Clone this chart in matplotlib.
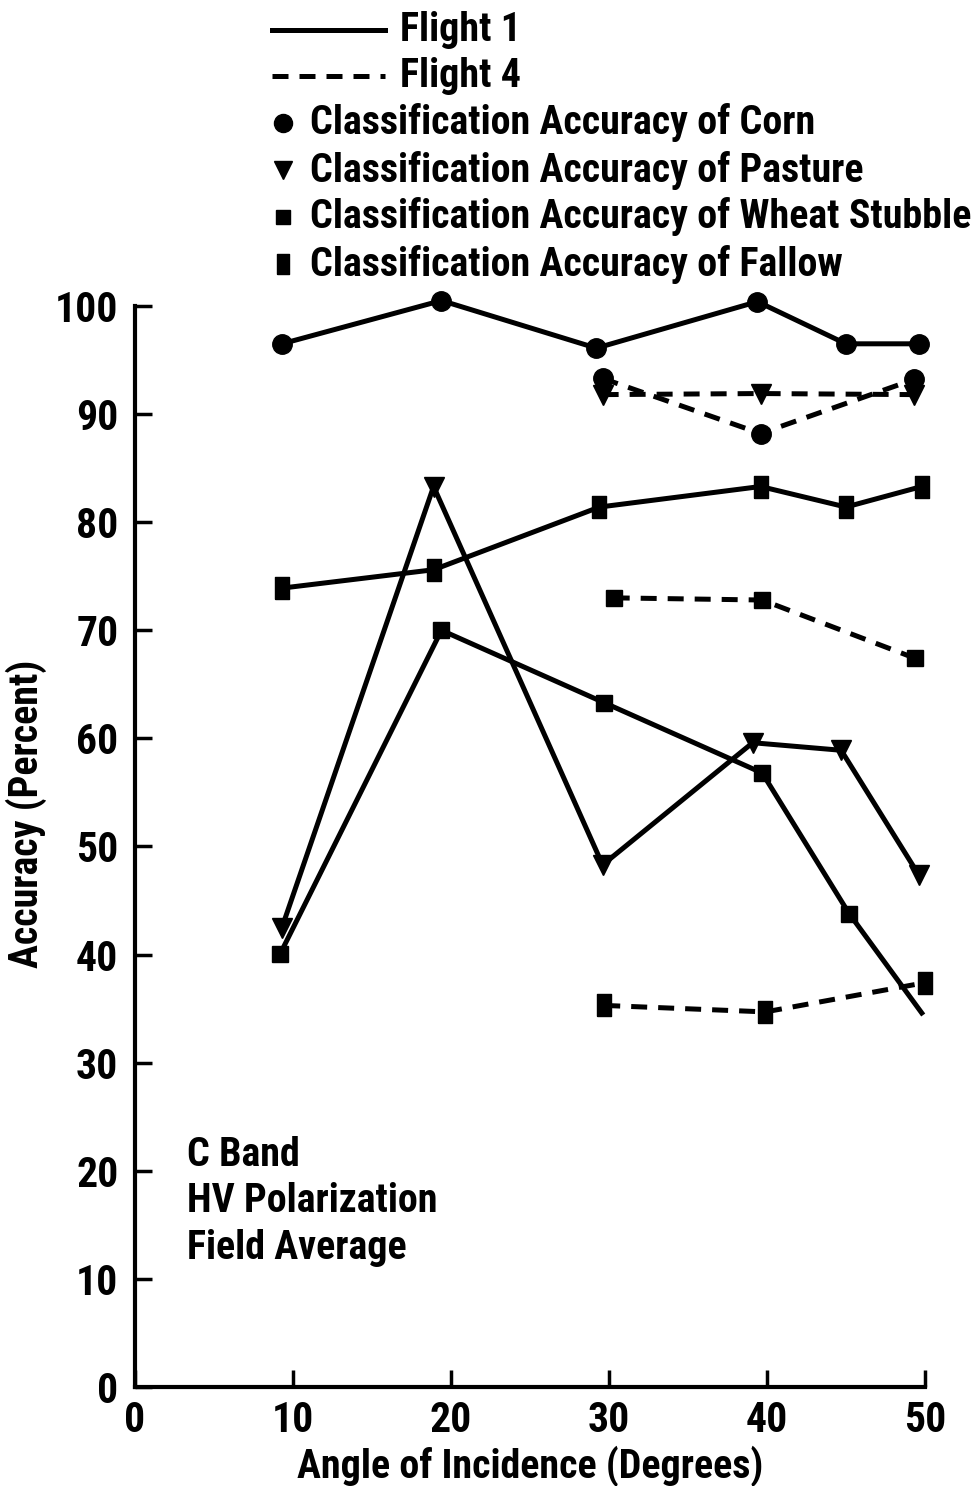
import matplotlib
matplotlib.use("Agg")
import matplotlib.pyplot as plt
from matplotlib.lines import Line2D
from matplotlib import font_manager

# pick a condensed face if one is installed
def pick_font():
    fl = font_manager.fontManager.ttflist
    order = ["robotocondensed", "notosans-extracondensed", "notosans-condensed",
             "narrow", "dejavusanscondensed"]
    for key in order:
        c = [f for f in fl if key in f.fname.lower().replace(" ", "")
             and f.style == "normal" and "mono" not in f.fname.lower()]
        if c:
            def w(f):
                wt = f.weight if isinstance(f.weight, int) else 400
                return abs(wt - 600)
            return sorted(c, key=w)[0]
    return None

pf = pick_font()
WEIGHT = "bold"
if pf is not None:
    plt.rcParams["font.family"] = [pf.name, "DejaVu Sans"]
    plt.rcParams["font.stretch"] = pf.stretch
    WEIGHT = pf.weight
else:
    plt.rcParams["font.family"] = ["DejaVu Sans"]
plt.rcParams["font.weight"] = WEIGHT
plt.rcParams["axes.labelweight"] = WEIGHT

# ---- data ----
corn_f1_x = [9.3, 19.4, 29.2, 39.4, 45.0, 49.6]
corn_f1_y = [96.5, 100.5, 96.1, 100.4, 96.5, 96.5]

corn_f4_x = [29.6, 39.6, 49.3]
corn_f4_y = [93.3, 88.2, 93.2]

pasture_f1_x = [9.3, 18.9, 29.6, 39.1, 44.7, 49.6]
pasture_f1_y = [42.5, 83.3, 48.3, 59.6, 58.9, 47.4]

pasture_f4_x = [29.6, 39.6, 49.3]
pasture_f4_y = [91.8, 91.9, 91.8]

wheat_f1_x = [9.2, 19.4, 29.7, 39.7, 45.2, 49.8]
wheat_f1_y = [40.1, 70.0, 63.3, 56.8, 43.8, 34.6]

wheat_f4_x = [30.3, 39.7, 49.4]
wheat_f4_y = [73.0, 72.8, 67.4]

fallow_f1_x = [9.3, 18.9, 29.4, 39.6, 45.0, 49.8]
fallow_f1_y = [73.9, 75.6, 81.4, 83.3, 81.4, 83.3]

fallow_f4_x = [29.7, 39.9, 50.0]
fallow_f4_y = [35.3, 34.7, 37.4]

x_ticks = [0, 10, 20, 30, 40, 50]
y_ticks = [0, 10, 20, 30, 40, 50, 60, 70, 80, 90, 100]

notes = ["C Band", "HV Polarization", "Field Average"]
legend_lines = ["Flight 1", "Flight 4"]
legend_marks = ["Classification Accuracy of Corn",
                "Classification Accuracy of Pasture",
                "Classification Accuracy of Wheat Stubble",
                "Classification Accuracy of Fallow"]

# tall narrow bar marker for fallow
bar = [(-0.3, -0.5), (0.3, -0.5), (0.3, 0.5), (-0.3, 0.5), (-0.3, -0.5)]

LW = 3.6
DASH = (0, (3.2, 2.2))
FS = 28.8

fig = plt.figure(figsize=(9.74, 14.86), dpi=100)
ax = fig.add_axes([0.1386, 0.0666, 0.811, 0.7275])

def draw(x, y, marker, ms, ls, every=None):
    ax.plot(x, y, color="black", lw=LW, linestyle=ls, marker=marker,
            markersize=ms, markevery=every, clip_on=False,
            solid_joinstyle="round", dash_capstyle="butt")

draw(corn_f1_x, corn_f1_y, "o", 14, "-")
draw(corn_f4_x, corn_f4_y, "o", 14, DASH)
draw(pasture_f1_x, pasture_f1_y, "v", 15, "-")
draw(pasture_f4_x, pasture_f4_y, "v", 15, DASH)
draw(wheat_f1_x, wheat_f1_y, "s", 11.5, "-", every=list(range(len(wheat_f1_x) - 1)))
draw(wheat_f4_x, wheat_f4_y, "s", 11.5, DASH)
draw(fallow_f1_x, fallow_f1_y, bar, 16, "-")
draw(fallow_f4_x, fallow_f4_y, bar, 16, DASH)

ax.set_xlim(0, 50)
ax.set_ylim(0, 100)
ax.set_xticks(x_ticks)
ax.set_yticks(y_ticks)
ax.tick_params(direction="in", length=12, width=2.5, labelsize=30)
ax.tick_params(axis="y", pad=12)
ax.tick_params(axis="x", pad=9)
for s in ["top", "right"]:
    ax.spines[s].set_visible(False)
for s in ["left", "bottom"]:
    ax.spines[s].set_linewidth(3)

ax.set_xlabel("Angle of Incidence (Degrees)", fontsize=FS)
ax.set_ylabel("Accuracy (Percent)", fontsize=FS)
ax.xaxis.set_label_coords(0.5, -0.054)
ax.yaxis.set_label_coords(-0.112, 0.53)

for i, t in enumerate(notes):
    ax.text(3.3, 21.5 - i * 4.3, t, fontsize=FS, va="center", ha="left")

# ---- legend drawn at the top ----
W, H = 974, 1486
def fx(px):
    return px / W
def fy(py):
    return 1 - py / H

for i, (label, ls) in enumerate(zip(legend_lines, ["-", DASH])):
    yy = 30 + i * 46
    fig.add_artist(Line2D([fx(272), fx(385)], [fy(yy), fy(yy)], color="black",
                          lw=LW, linestyle=ls))
    fig.text(fx(400), fy(yy), label, fontsize=FS, va="center", ha="left")

for i, (label, mk, ms) in enumerate(zip(legend_marks, ["o", "v", "s", bar],
                                        [13, 13, 10, 15])):
    yy = 123 + i * 47
    fig.add_artist(Line2D([fx(283)], [fy(yy)], color="black", marker=mk,
                          markersize=ms, linestyle="none"))
    fig.text(fx(310), fy(yy), label, fontsize=FS, va="center", ha="left")

fig.savefig("out.png", dpi=100)
